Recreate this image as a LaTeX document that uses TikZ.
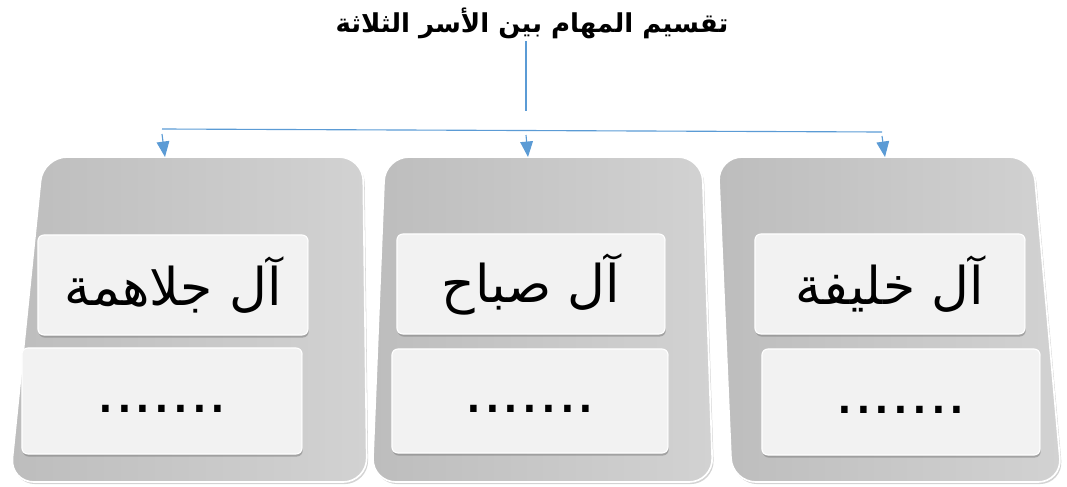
\documentclass[tikz,border=0pt]{standalone}
\usepackage{fontspec}
\newfontfamily\arabicfont[Script=Arabic]{DejaVu Sans}
\newfontfamily\dotfont{Liberation Sans}
\TeXXeTstate=1
\usetikzlibrary{arrows.meta, shadows}
\definecolor{cardgray}{HTML}{BDBDBD}
\definecolor{cardlight}{HTML}{D2D2D2}
\definecolor{paneface}{HTML}{F2F2F2}
\definecolor{linkblue}{HTML}{5B9BD5}

\begin{document}
\begin{tikzpicture}[x=0.025cm,y=-0.025cm,>={Triangle[length=11pt,width=9pt]},
		card/.style={left color=cardgray,right color=cardlight,draw=white,line width=1.2pt,rounded corners=0.6cm,
			drop shadow={shadow xshift=1pt,shadow yshift=-1.5pt,opacity=0.35}},
		pane/.style={fill=paneface,draw=white,line width=0.8pt,rounded corners=0.15cm,
			drop shadow={shadow xshift=0.5pt,shadow yshift=-1.8pt,opacity=0.55}},
		famname/.style={pane,font=\arabicfont\fontsize{37}{40}\selectfont},
		famdots/.style={pane,font=\dotfont\fontsize{48}{52}\selectfont},
		link/.style={linkblue,line width=0.8pt}]
			\useasboundingbox (0,0) rectangle (1067,487);
			% title
			\node (title) at (532,23) {\arabicfont\bfseries\fontsize{18.5}{22}\selectfont\beginR تقسيم المهام بين الأسر الثلاثة\endR};
			% cards
			\path[card] (43,157) -- (363,157) -- (367,482) -- (10,482) -- cycle;
			\path[card] (385,157) -- (702,157) -- (713,482) -- (372,482) -- cycle;
			\path[card] (718,157) -- (1033,157) -- (1062,482) -- (732,482) -- cycle;
			% panes
			\node[famname, minimum width=6.75cm, minimum height=2.5cm]  (0) at (173,285) {\beginR آل جلاهمة\endR};
			\node[famdots, minimum width=7cm,    minimum height=2.65cm] (0d) at (162,401) {\raisebox{-8pt}[0pt][0pt]{.......}};
			\node[famname, minimum width=6.7cm,  minimum height=2.5cm]  (1) at (531,284) {\beginR آل صباح\endR};
			\node[famdots, minimum width=6.9cm,  minimum height=2.6cm]  (1d) at (530,401) {\raisebox{-8pt}[0pt][0pt]{.......}};
			\node[famname, minimum width=6.75cm, minimum height=2.5cm]  (2) at (890,284) {\beginR آل خليفة\endR};
			\node[famdots, minimum width=6.95cm, minimum height=2.65cm] (2d) at (901,402) {\raisebox{-8pt}[0pt][0pt]{.......}};
			% connectors
			\coordinate (stem) at (526,41);
			\coordinate (hub)  at (526,111);
			\coordinate (busl) at (162,129);
			\coordinate (busr) at (882,132);
			\coordinate (drop0) at (162,134);
			\coordinate (drop1) at (526,135);
			\coordinate (drop2) at (882,136);
			\coordinate (top0) at (165,157);
			\coordinate (top1) at (528,157);
			\coordinate (top2) at (885,157);
			\draw[link] (stem) -- (hub);
			\draw[link] (busl) -- (busr);
			\draw[link,->] (drop0) -- (top0);
			\draw[link,->] (drop1) -- (top1);
			\draw[link,->] (drop2) -- (top2);
		\end{tikzpicture}
\end{document}
